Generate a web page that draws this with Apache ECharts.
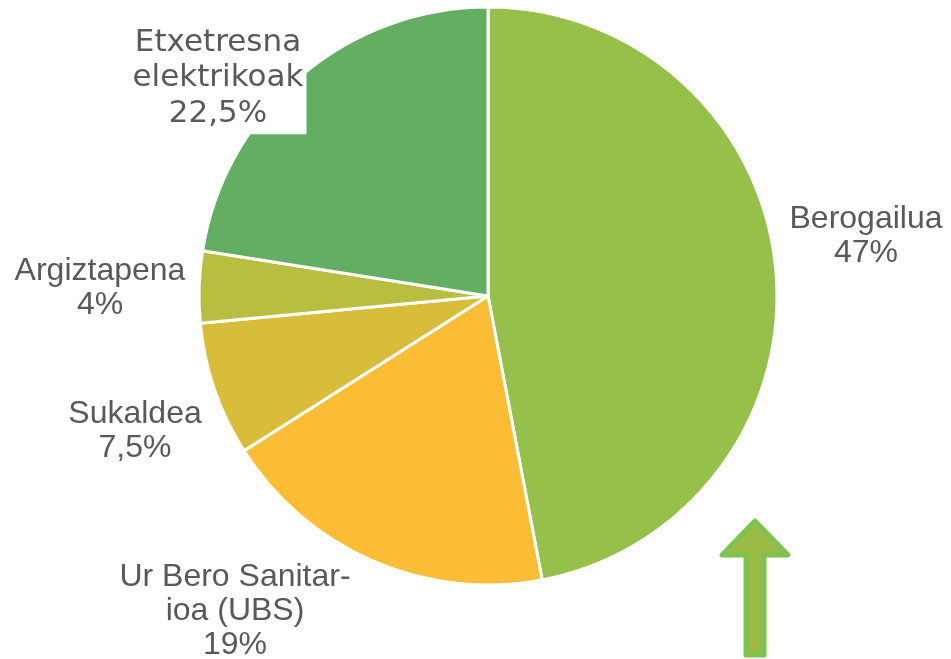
<!DOCTYPE html>
<html>
<head>
<meta charset="utf-8">
<script src="https://cdn.jsdelivr.net/npm/echarts@6/dist/echarts.min.js"></script>
<style>html,body{margin:0;padding:0;background:#fff;}#main{width:951px;height:659px;}</style>
</head>
<body>
<div id="main"></div>
<script>
const categories = ['Berogailua', 'Ur Bero Sanitar-\nioa (UBS)', 'Sukaldea', 'Argiztapena', 'Etxetresna\nelektrikoak'];
const values = [47, 19, 7.5, 4, 22.5];
const valueLabels = ['47%', '19%', '7,5%', '4%', '22,5%'];
const colors = ['#95c04a', '#fbbd36', '#d8bd3a', '#b8bf40', '#63ae63'];
const labelPos = [[866, 236], [235, 611], [135, 431], [100, 288], [218, 78]];

const chart = echarts.init(document.getElementById('main'));
chart.setOption({
  animation: false,
  series: [{
    type: 'pie',
    center: [488, 296],
    radius: [0, 289],
    startAngle: 90,
    clockwise: true,
    itemStyle: { borderColor: '#fff', borderWidth: 3 },
    labelLine: { show: false },
    label: {
      show: true,
      position: 'outside',
      fontFamily: 'Liberation Sans',
      fontSize: 32,
      lineHeight: 34,
      color: '#595959',
      align: 'center',
      overflow: 'none',
      formatter: p => categories[p.dataIndex] + '\n' + valueLabels[p.dataIndex]
    },
    labelLayout: p => ({ x: labelPos[p.dataIndex][0], y: labelPos[p.dataIndex][1], align: 'center', verticalAlign: 'middle' }),
    data: categories.map((c, i) => {
      const d = { name: c, value: values[i], itemStyle: { color: colors[i] } };
      if (i === 4) {
        d.label = {
          fontFamily: 'DejaVu Sans',
          fontSize: 31,
          lineHeight: 35.5,
          backgroundColor: '#fff',
          padding: [4, 3, 2, 3]
        };
      }
      return d;
    })
  }],
  graphic: [{
    type: 'polygon',
    shape: { points: [[755, 521], [788, 555], [764, 555], [764, 655], [746, 655], [746, 555], [722, 555]] },
    style: { fill: '#9bbb45', stroke: '#7dc34f', lineWidth: 5, lineJoin: 'round' }
  }]
});
</script>
</body>
</html>
